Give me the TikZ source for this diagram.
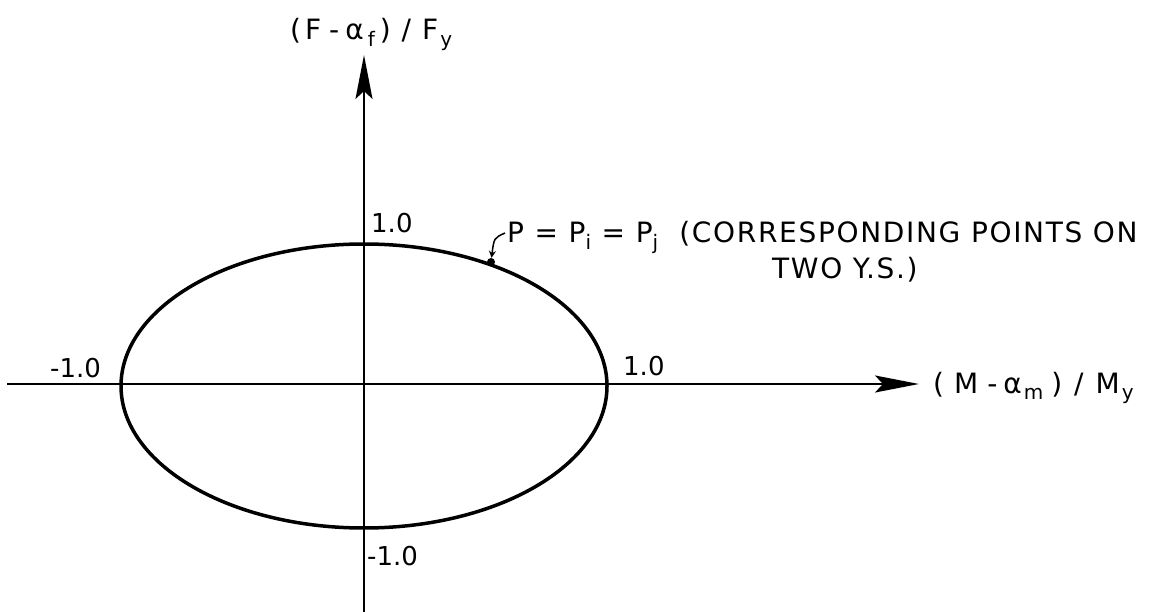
\documentclass[tikz,border=0pt]{standalone}
\usepackage{fontspec}
\setmainfont{DejaVu Sans}
\newfontfamily\lettA[LetterSpace=6]{DejaVu Sans}
\usetikzlibrary{arrows.meta}
\newcommand{\sbs}[1]{\raisebox{-0.45ex}{\fontsize{20}{22}\selectfont #1}}
\newcommand{\gp}[1]{\hspace{#1pt}}
\begin{document}
\begin{tikzpicture}[x=1pt,y=-1pt,
  axisline/.style={line width=2pt},
  axtip/.style={-{Stealth[length=44pt,width=17pt,inset=8pt]}},
  lbl/.style={font=\fontsize{26}{30}\selectfont, inner sep=0pt},
  notelbl/.style={font=\lettA\fontsize{28}{32}\selectfont, inner sep=0pt},
  axlbl/.style={font=\fontsize{28}{32}\selectfont, inner sep=0pt},
  curve/.style={line width=3.5pt}]
\useasboundingbox (0,0) rectangle (1164,612);
\coordinate (yb) at (364,612);
\coordinate (yt) at (364,55);
\coordinate (xl) at (7,384);
\coordinate (xr) at (919,384);
\draw[axisline,axtip] (yb) -- (yt);
\draw[axisline,axtip] (xl) -- (xr);
\draw[curve] (364,386) ellipse [x radius=243, y radius=142];
% axis labels
\node[axlbl,anchor=base west] (ylab) at (290,40) {(\gp{4}F\gp{8}-\gp{6}α\gp{4}\sbs{f}\gp{5})\gp{11}/\gp{11}F\gp{2}\sbs{y}};
\node[axlbl,anchor=base west] (xlab) at (933,393) {(\gp{10}M\gp{9}-\gp{6}α\gp{2}\sbs{m}\gp{8})\gp{12}/\gp{12}M\gp{2}\sbs{y}};
% tick labels
\node[lbl,anchor=base west] (t1) at (371,233) {1.0};
\node[lbl,anchor=base west] (t2) at (623,375) {1.0};
\node[lbl,anchor=base west] (t3) at (50,377) {-1.0};
\node[lbl,anchor=base west] (t4) at (367,565) {-1.0};
% point P
\node[circle,fill,inner sep=0pt,minimum size=8pt] (pt) at (491,262) {};
\node[notelbl,anchor=base west] (plab) at (507,243) {P = P\sbs{i} = P\sbs{j} \ (CORRESPONDING POINTS ON};
\node[notelbl,anchor=base west] (plab2) at (772,279) {TWO Y.S.)};
\coordinate (ls) at (505,233);
\draw[line width=1.5pt,-{Stealth[length=7pt,width=7pt]}] (ls) .. controls (494,238) .. (pt);
\end{tikzpicture}
\end{document}
